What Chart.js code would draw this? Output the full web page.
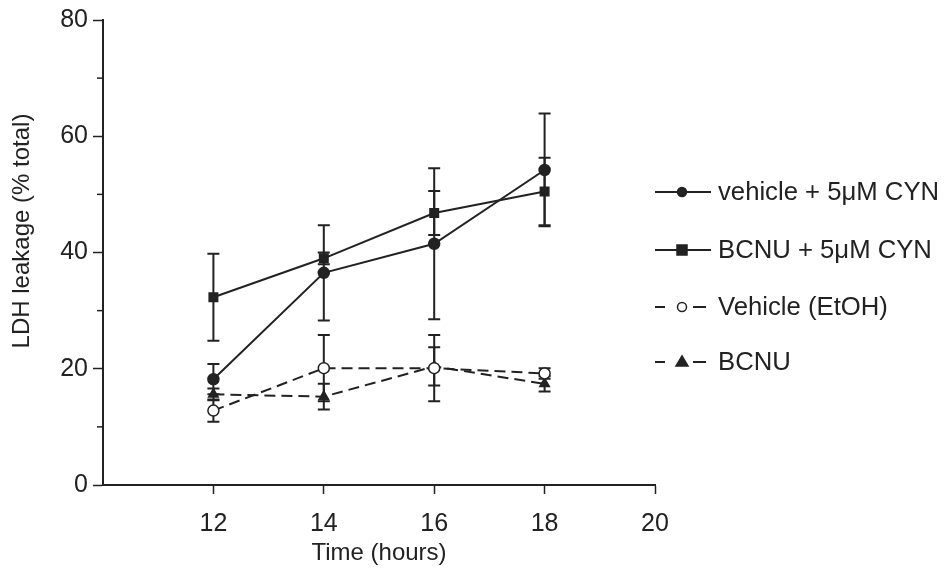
<!DOCTYPE html>
<html>
<head>
<meta charset="utf-8">
<title>LDH leakage</title>
<script src="https://cdn.jsdelivr.net/npm/chart.js@4.4.0/dist/chart.umd.min.js"></script>
<style>
  html, body { margin: 0; padding: 0; background: #fff; }
  canvas { display: block; }
</style>
</head>
<body>
<canvas id="chart" width="945" height="575"></canvas>
<script>
// time points (hours)
const hours = [12, 14, 16, 18];

// mean LDH leakage (% total) and error bars per group
const vehicleCyn = [18.2, 36.5, 41.5, 54.2];
const vehicleCynErr = [2.6, 8.2, 13.0, 9.7];
const bcnuCyn = [32.3, 39.0, 46.8, 50.5];
const bcnuCynErr = [7.5, 1.0, 3.8, 5.8];
const vehicleEtoh = [12.8, 20.1, 20.1, 19.2];
const vehicleEtohErr = [1.9, 5.7, 5.7, 0.9];
const bcnu = [15.6, 15.2, 20.4, 17.4];
const bcnuErr = [1.0, 2.2, 3.3, 1.3];

const seriesNames = ['vehicle + 5\u03bcM CYN', 'BCNU + 5\u03bcM CYN', 'Vehicle (EtOH)', 'BCNU'];
const xTicks = [12, 14, 16, 18, 20];
const yTicks = [0, 20, 40, 60, 80];
const yMinorTicks = [10, 30, 50, 70];

const INK = '#222';
const FONT = '"Liberation Sans", Arial, sans-serif';

const points = (ys) => hours.map((h, i) => ({ x: h, y: ys[i] }));

function makeSet(label, ys, errs, style, fill, dashed) {
  return {
    label: label,
    data: points(ys),
    errors: errs,
    borderColor: INK,
    borderWidth: 2,
    borderDash: dashed ? [11, 6] : [],
    pointStyle: style,
    pointRadius: style === 'rect' ? 6 : 5.5,
    pointBackgroundColor: fill,
    pointBorderColor: INK,
    pointBorderWidth: 1.5,
    tension: 0
  };
}

// vertical error bars with caps, drawn under the markers
const errorBars = {
  id: 'errorBars',
  beforeDatasetsDraw(chart) {
    const { ctx, scales: { x, y } } = chart;
    ctx.save();
    ctx.strokeStyle = INK;
    ctx.lineWidth = 2;
    chart.data.datasets.forEach(ds => {
      ds.data.forEach((p, i) => {
        const px = x.getPixelForValue(p.x);
        const top = y.getPixelForValue(p.y + ds.errors[i]);
        const bot = y.getPixelForValue(p.y - ds.errors[i]);
        ctx.beginPath();
        ctx.moveTo(px, top); ctx.lineTo(px, bot);
        ctx.moveTo(px - 6, top); ctx.lineTo(px + 6, top);
        ctx.moveTo(px - 6, bot); ctx.lineTo(px + 6, bot);
        ctx.stroke();
      });
    });
    ctx.restore();
  }
};

// short minor ticks on the y axis, rotated y title and legend on the right
const decorations = {
  id: 'decorations',
  afterDraw(chart) {
    const { ctx, scales: { y } } = chart;
    ctx.save();
    ctx.strokeStyle = INK;
    ctx.lineWidth = 1.5;
    yMinorTicks.forEach(v => {
      const py = y.getPixelForValue(v);
      ctx.beginPath();
      ctx.moveTo(chart.chartArea.left - 6, py);
      ctx.lineTo(chart.chartArea.left, py);
      ctx.stroke();
    });

    ctx.fillStyle = INK;
    ctx.font = '24px ' + FONT;
    ctx.textAlign = 'center';
    ctx.textBaseline = 'middle';
    ctx.translate(22, 231);
    ctx.rotate(-Math.PI / 2);
    ctx.fillText('LDH leakage (% total)', 0, 0);
    ctx.restore();

    // legend
    const rows = [192, 250, 307, 362];
    ctx.save();
    chart.data.datasets.forEach((ds, i) => {
      const ly = rows[i];
      ctx.strokeStyle = INK;
      ctx.lineWidth = 2;
      ctx.beginPath();
      if (ds.borderDash.length) {
        ctx.moveTo(655, ly); ctx.lineTo(665, ly);
        ctx.moveTo(693, ly); ctx.lineTo(706, ly);
      } else {
        ctx.moveTo(655, ly); ctx.lineTo(711, ly);
      }
      ctx.stroke();
      ctx.fillStyle = ds.pointBackgroundColor;
      ctx.lineWidth = 1.5;
      ctx.beginPath();
      if (ds.pointStyle === 'circle') {
        ctx.arc(682, ly, 4.5, 0, Math.PI * 2);
      } else if (ds.pointStyle === 'rect') {
        ctx.rect(677, ly - 5, 10, 10);
      } else {
        ctx.moveTo(682, ly - 6); ctx.lineTo(688, ly + 4); ctx.lineTo(676, ly + 4); ctx.closePath();
      }
      ctx.fill();
      ctx.stroke();
      ctx.fillStyle = INK;
      ctx.font = '25.7px ' + FONT;
      ctx.textAlign = 'left';
      ctx.textBaseline = 'middle';
      ctx.fillText(ds.label, 718, ly + 1);
    });
    ctx.restore();
  }
};

new Chart(document.getElementById('chart'), {
  type: 'line',
  data: {
    datasets: [
      makeSet(seriesNames[0], vehicleCyn, vehicleCynErr, 'circle', INK, false),
      makeSet(seriesNames[1], bcnuCyn, bcnuCynErr, 'rect', INK, false),
      makeSet(seriesNames[2], vehicleEtoh, vehicleEtohErr, 'circle', '#fff', true),
      makeSet(seriesNames[3], bcnu, bcnuErr, 'triangle', INK, true)
    ]
  },
  options: {
    responsive: false,
    animation: false,
    layout: { padding: { top: 19, right: 290, left: 0, bottom: 0 } },
    plugins: {
      legend: { display: false },
      tooltip: { enabled: false }
    },
    scales: {
      x: {
        type: 'linear',
        min: 10,
        max: 20,
        afterBuildTicks: s => { s.ticks = xTicks.map(v => ({ value: v })); },
        afterFit: s => { s.height = 90; },
        grid: { display: true, drawOnChartArea: false, tickLength: 9, tickColor: INK, tickWidth: 1.5 },
        border: { display: true, color: INK, width: 2 },
        ticks: { color: INK, font: { family: FONT, size: 25 }, padding: 15, maxRotation: 0 },
        title: { display: true, text: 'Time (hours)', color: INK, font: { family: FONT, size: 24 }, padding: { top: 2, bottom: 7 } }
      },
      y: {
        min: 0,
        max: 80,
        afterBuildTicks: s => { s.ticks = yTicks.map(v => ({ value: v })); },
        afterFit: s => { s.width = 103; },
        grid: { display: true, drawOnChartArea: false, tickLength: 10, tickColor: INK, tickWidth: 1.5 },
        border: { display: true, color: INK, width: 2 },
        ticks: { color: INK, font: { family: FONT, size: 25 }, padding: 5 }
      }
    }
  },
  plugins: [errorBars, decorations]
});
</script>
</body>
</html>
